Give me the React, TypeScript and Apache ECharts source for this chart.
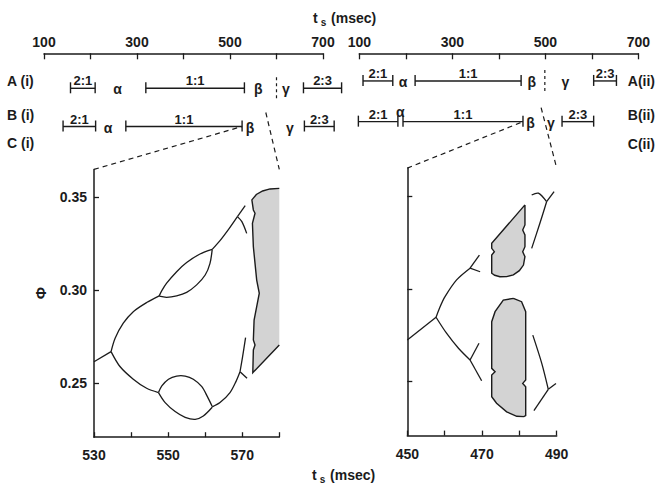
import React, { useEffect, useRef } from "react";
import * as echarts from "echarts";

// ---------- data ----------
const rowNames = ["A", "B"];
const rowLabelsI = ["A (i)", "B (i)", "C (i)"];
const rowLabelsII = ["A(ii)", "B(ii)", "C(ii)"];

// [start, end, row, ratio]
const intervalsI: [number, number, number, string][] = [
  [157, 210, 0, "2:1"], [319, 531, 0, "1:1"], [658, 740, 0, "2:3"],
  [141, 211, 1, "2:1"], [276, 526, 1, "1:1"], [660, 724, 1, "2:3"],
];
const intervalsII: [number, number, number, string][] = [
  [108, 172, 0, "2:1"], [220, 448, 0, "1:1"], [604, 653, 0, "2:3"],
  [98, 183, 1, "2:1"], [194, 452, 1, "1:1"], [536, 604, 1, "2:3"],
];
// [t, row, letter]
const greekI: [number, number, string][] = [
  [258, 0, "α"], [561, 0, "β"], [620, 0, "γ"],
  [238, 1, "α"], [543, 1, "β"], [629, 1, "γ"],
];
const greekII: [number, number, string][] = [
  [194, 0, "α"], [471, 0, "β"], [543, 0, "γ"],
  [188, 1, "α"], [468, 1, "β"], [512, 1, "γ"],
];
// β/γ boundaries [t, row]
const boundaryI: [number, number][] = [[600, 0], [577, 1]];
const boundaryII: [number, number][] = [[499, 0], [491, 1]];
// zoom windows of the lower panels
const zoomI = { from: 530, to: 580, barEnd: 526 };
const zoomII = { from: 450, to: 490, barEnd: 452 };

// lower-left panel: bifurcation branches [t, phi]
const curvesI: [number, number][][] = [
  [[530, 0.2616], [534.6, 0.267]],
  [[534.6, 0.267], [535.7, 0.2742], [537.9, 0.2823], [540.6, 0.2885], [544.2, 0.2934], [547.6, 0.297]],
  [[547.6, 0.297], [548.3, 0.2998], [549.6, 0.3038], [552.3, 0.31], [555.0, 0.3149], [558.6, 0.3195], [561.9, 0.322]],
  [[547.6, 0.2968], [549.6, 0.2962], [552.3, 0.297], [555.0, 0.2989], [557.7, 0.3029], [560.0, 0.3082], [561.3, 0.3145], [561.9, 0.322]],
  [[561.9, 0.322], [564.0, 0.3267], [566.5, 0.3333], [568.7, 0.3396]],
  [[568.7, 0.3396], [570.8, 0.3455]],
  [[568.7, 0.3396], [569.9, 0.3369], [571.2, 0.3306]],
  [[534.6, 0.267], [537.0, 0.259], [540.6, 0.2522], [544.2, 0.2473], [547.4, 0.245]],
  [[547.4, 0.245], [548.3, 0.2486], [550.1, 0.2522], [552.3, 0.2539], [554.6, 0.2539], [556.8, 0.2522], [559.1, 0.2482], [560.6, 0.2428], [561.9, 0.2375]],
  [[547.4, 0.245], [549.2, 0.2396], [551.9, 0.2348], [554.6, 0.2317], [557.3, 0.2306], [559.5, 0.2324], [561.9, 0.2371]],
  [[561.9, 0.2373], [564.0, 0.2396], [566.7, 0.245], [568.3, 0.2509], [569.4, 0.2562]],
  [[569.4, 0.2562], [570.1, 0.2643], [570.9, 0.2745]],
  [[569.4, 0.2562], [571.3, 0.2527]],
];
// shaded (chaotic) regions, [t, phi]; open outline = cut by the panel edge
const shadedI: { closed: boolean; pts: [number, number][] }[] = [
  {
    closed: false,
    pts: [
      [580, 0.3548], [577.5, 0.3545], [575.5, 0.3534], [573.8, 0.3515], [572.6, 0.3486], [573.0, 0.3432],
      [573.45, 0.3414], [572.75, 0.336], [573.0, 0.3234], [573.9, 0.3055], [574.6, 0.2984],
      [573.9, 0.2912], [573.2, 0.284], [573.0, 0.2733], [573.45, 0.2706], [573.0, 0.2679],
      [572.85, 0.2557], [580, 0.2706],
    ],
  },
];

// lower-right panel
const curvesII: [number, number][][] = [
  [[450, 0.2725], [457.7, 0.2847]],
  [[457.7, 0.2847], [458.7, 0.29], [460.1, 0.2958], [463.2, 0.3048], [466.8, 0.3111]],
  [[466.8, 0.3111], [469.3, 0.3182]],
  [[466.8, 0.3111], [469.5, 0.3092]],
  [[457.7, 0.2847], [460.5, 0.2761], [463.7, 0.268], [466.8, 0.2617]],
  [[466.8, 0.2617], [469.2, 0.2707]],
  [[466.8, 0.2617], [469.9, 0.2505]],
  [[483.3, 0.3505], [485.1, 0.3515], [487.3, 0.3469]],
  [[487.3, 0.3469], [489.3, 0.3523]],
  [[487.3, 0.3469], [485.5, 0.3353], [483.3, 0.3218]],
  [[483.6, 0.2751], [486.0, 0.2599], [487.75, 0.2459]],
  [[487.75, 0.2459], [489.8, 0.2491]],
  [[487.75, 0.2459], [483.9, 0.2344]],
];
const shadedII: { closed: boolean; pts: [number, number][] }[] = [
  {
    closed: true,
    pts: [
      [481.5, 0.3452], [481.5, 0.3344], [480.9, 0.3317], [481.5, 0.329], [481.5, 0.3227], [480.9, 0.32],
      [481.5, 0.3173], [481.1, 0.3128], [480.0, 0.3098], [478.4, 0.3075], [476.6, 0.3066], [474.8, 0.3065],
      [473.4, 0.3073], [472.6, 0.3084], [472.6, 0.3182], [473.3, 0.32], [472.6, 0.3218], [472.6, 0.3245],
    ],
  },
  {
    closed: true,
    pts: [
      [478.4, 0.2949], [480.6, 0.2931], [481.7, 0.2877], [481.7, 0.2509], [480.9, 0.2491], [481.7, 0.2473],
      [481.7, 0.2318], [481.2, 0.2312], [479.3, 0.2314], [476.6, 0.2338], [473.9, 0.2384], [472.6, 0.2419],
      [472.6, 0.2536], [473.5, 0.2554], [472.6, 0.2572], [472.6, 0.2823], [473.5, 0.2877], [475.7, 0.2939],
    ],
  },
];

const phiMin = 0.221;
const phiMax = 0.365;

// ---------- styles ----------
const INK = "#1b1b1b";
const FONT = '"Liberation Sans", Arial, sans-serif';
const SHADE = "#d3d3d3";

function intervalSeries(gridIndex: number, data: [number, number, number, string][]) {
  return {
    type: "custom",
    xAxisIndex: gridIndex,
    yAxisIndex: gridIndex,
    silent: true,
    encode: { x: [0, 1], y: 2 },
    data: data.map((d) => [d[0], d[1], d[2]]),
    renderItem: (params: any, api: any) => {
      const d = data[params.dataIndex];
      const s = api.coord([d[0], d[2]]);
      const e = api.coord([d[1], d[2]]);
      const st = { stroke: INK, lineWidth: 1.4 };
      return {
        type: "group",
        children: [
          { type: "line", shape: { x1: s[0], y1: s[1], x2: e[0], y2: e[1] }, style: st },
          { type: "line", shape: { x1: s[0], y1: s[1] - 6, x2: s[0], y2: s[1] + 5 }, style: st },
          { type: "line", shape: { x1: e[0], y1: e[1] - 6, x2: e[0], y2: e[1] + 5 }, style: st },
          {
            type: "text",
            x: (s[0] + e[0]) / 2,
            y: s[1] - 1,
            style: {
              text: d[3], align: "center", verticalAlign: "bottom",
              fontFamily: FONT, fontSize: 13, fontWeight: "bold", fill: INK,
            },
          },
        ],
      };
    },
  };
}

function greekSeries(gridIndex: number, data: [number, number, string][], ivs: [number, number, number, string][]) {
  return {
    type: "custom",
    xAxisIndex: gridIndex,
    yAxisIndex: gridIndex,
    silent: true,
    encode: { x: 0, y: 1 },
    data: data.map((d) => [d[0], d[1]]),
    renderItem: (params: any, api: any) => {
      const d = data[params.dataIndex];
      const p = api.coord([d[0], d[1]]);
      const crowded = ivs.some((iv) => iv[2] === d[1] && (Math.abs(iv[0] - d[0]) < 10 || Math.abs(iv[1] - d[0]) < 10));
      return {
        type: "text",
        x: p[0],
        y: crowded ? p[1] - 3 : p[1] + 1,
        style: {
          text: d[2], align: "center", verticalAlign: crowded ? "bottom" : "middle",
          fontFamily: FONT, fontSize: 14, fontWeight: "bold", fill: INK,
        },
      };
    },
  };
}

function boundarySeries(gridIndex: number, data: [number, number][]) {
  const rowA = data.filter((d) => d[1] === 0);
  return {
    type: "custom",
    xAxisIndex: gridIndex,
    yAxisIndex: gridIndex,
    silent: true,
    encode: { x: 0, y: 1 },
    data: rowA,
    renderItem: (params: any, api: any) => {
      const d = rowA[params.dataIndex];
      const p = api.coord([d[0], d[1]]);
      return {
        type: "line",
        shape: { x1: p[0], y1: p[1] - 11, x2: p[0], y2: p[1] + 10 },
        style: { stroke: INK, lineWidth: 1.2, lineDash: [3, 3] },
      };
    },
  };
}

function curveSeries(gridIndex: number, curves: [number, number][][]) {
  return {
    type: "custom",
    xAxisIndex: gridIndex,
    yAxisIndex: gridIndex,
    silent: true,
    z: 3,
    data: curves.map((c) => c[0]),
    renderItem: (params: any, api: any) => ({
      type: "polyline",
      shape: { points: curves[params.dataIndex].map((pt) => api.coord(pt)), smooth: 0.3 },
      style: { stroke: INK, lineWidth: 1.3, fill: null },
    }),
  };
}

function shadeSeries(gridIndex: number, shapes: { closed: boolean; pts: [number, number][] }[]) {
  return {
    type: "custom",
    xAxisIndex: gridIndex,
    yAxisIndex: gridIndex,
    silent: true,
    z: 2,
    data: shapes.map((s) => s.pts[0]),
    renderItem: (params: any, api: any) => {
      const sh = shapes[params.dataIndex];
      const pts = sh.pts.map((pt) => api.coord(pt));
      const outline = sh.closed ? [...pts, pts[0]] : pts;
      return {
        type: "group",
        children: [
          { type: "polygon", shape: { points: pts }, style: { fill: SHADE, stroke: null } },
          { type: "polyline", shape: { points: outline }, style: { stroke: INK, lineWidth: 1.4, fill: null } },
        ],
      };
    },
  };
}

const axisLineStyle = { show: true, onZero: false, lineStyle: { color: INK, width: 1.5 } };

const topX = (gridIndex: number, offset: number) => ({
  gridIndex,
  type: "value",
  position: "top",
  offset,
  min: 100,
  max: 700,
  interval: 100,
  splitLine: { show: false },
  axisLine: axisLineStyle,
  axisTick: { show: true, inside: true, length: 6, lineStyle: { color: INK, width: 1.3 } },
  axisLabel: {
    show: true,
    margin: 4,
    color: INK,
    fontFamily: FONT,
    fontSize: 14,
    fontWeight: "bold",
    formatter: (v: number) => ((v - 100) % 200 === 0 ? String(v) : ""),
  },
});

const topY = (gridIndex: number) => ({
  gridIndex,
  type: "category",
  data: rowNames,
  inverse: true,
  axisLine: { show: false },
  axisTick: { show: false },
  axisLabel: { show: false },
  splitLine: { show: false },
});

const lowX = (gridIndex: number, min: number, max: number) => ({
  gridIndex,
  type: "value",
  min,
  max,
  interval: 10,
  splitLine: { show: false },
  axisLine: axisLineStyle,
  axisTick: { show: true, inside: true, length: 5, lineStyle: { color: INK, width: 1.3 } },
  axisLabel: {
    margin: 11,
    color: INK,
    fontFamily: FONT,
    fontSize: 14,
    fontWeight: "bold",
    showMaxLabel: true,
    formatter: (v: number) => ((v - min) % 20 === 0 ? String(v) : ""),
  },
});

const lowY = (gridIndex: number, labels: boolean) => ({
  gridIndex,
  type: "value",
  min: phiMin,
  max: phiMax,
  splitLine: { show: false },
  axisLine: axisLineStyle,
  axisTick: { show: true, inside: true, length: 5, customValues: [0.25, 0.3, 0.35], lineStyle: { color: INK, width: 1.3 } },
  axisLabel: {
    show: labels,
    customValues: [0.25, 0.3, 0.35],
    margin: 7,
    color: INK,
    fontFamily: FONT,
    fontSize: 14,
    fontWeight: "bold",
    formatter: (v: number) => v.toFixed(2),
  },
});

const titleText = (x: number, y: number) => ({
  type: "text",
  x,
  y,
  style: {
    text: "{t|t}{s|s}{m| (msec)}",
    verticalAlign: "middle",
    fill: INK,
    rich: {
      t: { fontFamily: FONT, fontSize: 14, fontWeight: "bold", lineHeight: 18, fill: INK },
      s: { fontFamily: FONT, fontSize: 10, fontWeight: "bold", lineHeight: 10, verticalAlign: "bottom", padding: [0, 1, 0, 3], fill: INK },
      m: { fontFamily: FONT, fontSize: 14, fontWeight: "bold", lineHeight: 18, fill: INK },
    },
  },
});

const label = (text: string, x: number, y: number, align: string) => ({
  type: "text",
  x,
  y,
  style: { text, align, verticalAlign: "middle", fontFamily: FONT, fontSize: 14, fontWeight: "bold", fill: INK },
});

export default function App() {
  const ref = useRef<HTMLDivElement>(null);
  useEffect(() => {
    document.body.style.margin = "0";
    const chart = echarts.init(ref.current as HTMLDivElement, null, { renderer: "svg" });
    const option: any = {
      animation: false,
      backgroundColor: "#ffffff",
      grid: [
        { left: 44, width: 279, top: 69.2, height: 76.4, outerBoundsMode: "none" },
        { left: 359.3, width: 279, top: 60.6, height: 81.4, outerBoundsMode: "none" },
        { left: 94, width: 185.3, top: 169.4, height: 267.8, outerBoundsMode: "none" },
        { left: 407.3, width: 149.4, top: 168.1, height: 267.5, outerBoundsMode: "none" },
      ],
      xAxis: [topX(0, 15.9), topX(1, 7.3), lowX(2, zoomI.from, zoomI.to), lowX(3, zoomII.from, zoomII.to)],
      yAxis: [topY(0), topY(1), lowY(2, true), lowY(3, false)],
      series: [
        intervalSeries(0, intervalsI),
        greekSeries(0, greekI, intervalsI),
        boundarySeries(0, boundaryI),
        intervalSeries(1, intervalsII),
        greekSeries(1, greekII, intervalsII),
        boundarySeries(1, boundaryII),
        shadeSeries(2, shadedI),
        curveSeries(2, curvesI),
        shadeSeries(3, shadedII),
        curveSeries(3, curvesII),
      ],
    };
    chart.setOption(option);

    const px = (g: number, v: any) => chart.convertToPixel({ gridIndex: g }, v) as number[];
    const dash = { stroke: INK, lineWidth: 1.2, lineDash: [5, 4] };
    const links: any[] = [];
    const addLinks = (topGrid: number, lowGrid: number, zoom: any, bnd: number) => {
      const barEnd = px(topGrid, [zoom.barEnd, 1]);
      const cornerL = px(lowGrid, [zoom.from, phiMax]);
      const cornerR = px(lowGrid, [zoom.to, phiMax]);
      const b = px(topGrid, [bnd, 1]);
      links.push({ type: "line", shape: { x1: cornerL[0], y1: cornerL[1], x2: barEnd[0], y2: barEnd[1] }, style: dash, silent: true });
      links.push({ type: "line", shape: { x1: b[0], y1: b[1] - 14, x2: cornerR[0], y2: cornerR[1] }, style: dash, silent: true });
    };
    addLinks(0, 2, zoomI, boundaryI[1][0]);
    addLinks(1, 3, zoomII, boundaryII[1][0]);

    chart.setOption({
      graphic: [
        ...links,
        titleText(313, 18),
        titleText(312, 475),
        label(rowLabelsI[0], 7, 81, "left"),
        label(rowLabelsI[1], 7, 115, "left"),
        label(rowLabelsI[2], 7, 143, "left"),
        label(rowLabelsII[0], 655, 81, "right"),
        label(rowLabelsII[1], 655, 115, "right"),
        label(rowLabelsII[2], 655, 144, "right"),
        { type: "text", x: 40, y: 293, rotation: Math.PI / 2, style: { text: "Φ", align: "center", verticalAlign: "middle", fontFamily: FONT, fontSize: 15, fontWeight: "bold", fill: INK } },
      ],
    });
    return () => chart.dispose();
  }, []);
  return <div ref={ref} style={{ width: 661, height: 483 }} />;
}
